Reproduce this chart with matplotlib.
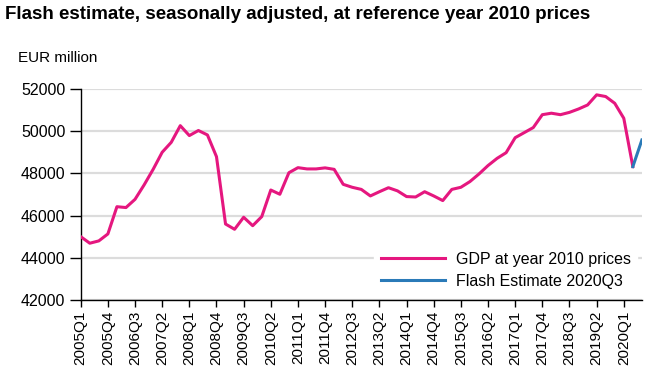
import matplotlib
matplotlib.use("Agg")
import matplotlib.pyplot as plt
import numpy as np

plt.rcParams['font.family'] = ['Liberation Sans', 'DejaVu Sans']

quarters = [f"{y}Q{q}" for y in range(2005, 2021) for q in range(1, 5)][:63]
gdp = [45000, 44690, 44800, 45130, 46420, 46380, 46770, 47450, 48190, 49000,
       49470, 50260, 49790, 50030, 49820, 48790, 45600, 45350, 45920, 45520,
       45950, 47210, 47010, 48030, 48270, 48210, 48210, 48260, 48190, 47480,
       47340, 47240, 46930, 47130, 47320, 47170, 46900, 46880, 47130, 46930,
       46710, 47240, 47340, 47610, 47970, 48370, 48710, 48980, 49690, 49930,
       50170, 50780, 50850, 50780, 50890, 51050, 51240, 51720, 51640, 51320,
       50610, 48320]
flash = [48320, 49580]
yticks = [42000, 44000, 46000, 48000, 50000, 52000]

title = "Flash estimate, seasonally adjusted, at reference year 2010 prices"
ylabel = "EUR million"
labels = ["GDP at year 2010 prices", "Flash Estimate 2020Q3"]

pink = "#e5177f"
blue = "#2a7ab8"

fig = plt.figure(figsize=(6.51, 3.85), dpi=100)
ax = fig.add_axes([0.124, 0.2208, 0.862, 0.5482])

x = np.arange(len(gdp))
ax.plot(x, gdp, color=pink, lw=2.2, solid_joinstyle='round', zorder=3, label=labels[0])
ax.plot([len(gdp) - 1, len(gdp)], flash, color=blue, lw=2.2, zorder=3, label=labels[1])

ax.set_xlim(0, 62)
ax.set_ylim(42000, 52000)
ax.set_yticks(yticks)
ax.set_yticklabels([str(v) for v in yticks])
ax.yaxis.grid(True, color="#dcdcdc", lw=1.6)
ax.set_axisbelow(True)
ticks = list(range(0, 63, 3))
ax.set_xticks(ticks)
ax.set_xticklabels([quarters[i] for i in ticks], rotation=90)
ax.tick_params(axis='y', length=8, width=1, labelsize=11.5, pad=3)
ax.tick_params(axis='x', length=5, width=1, labelsize=11, pad=3)
for s in ['top', 'right']:
    ax.spines[s].set_visible(False)
for s in ['left', 'bottom']:
    ax.spines[s].set_linewidth(1.0)

leg = ax.legend(loc='lower right', frameon=True, fontsize=11.5, handlelength=4.0,
                handletextpad=0.7, borderaxespad=0.3, labelspacing=0.45,
                bbox_to_anchor=(1.0, 0.0))
leg.get_frame().set_edgecolor('white')
leg.get_frame().set_facecolor('white')
leg.get_frame().set_alpha(1.0)
leg.set_zorder(5)

fig.text(0.008, 0.985, title, fontsize=13.5, fontweight='bold', va='top', ha='left')
fig.text(0.027, 0.85, ylabel, fontsize=11, va='center', ha='left')

fig.savefig("out.png", dpi=100)
